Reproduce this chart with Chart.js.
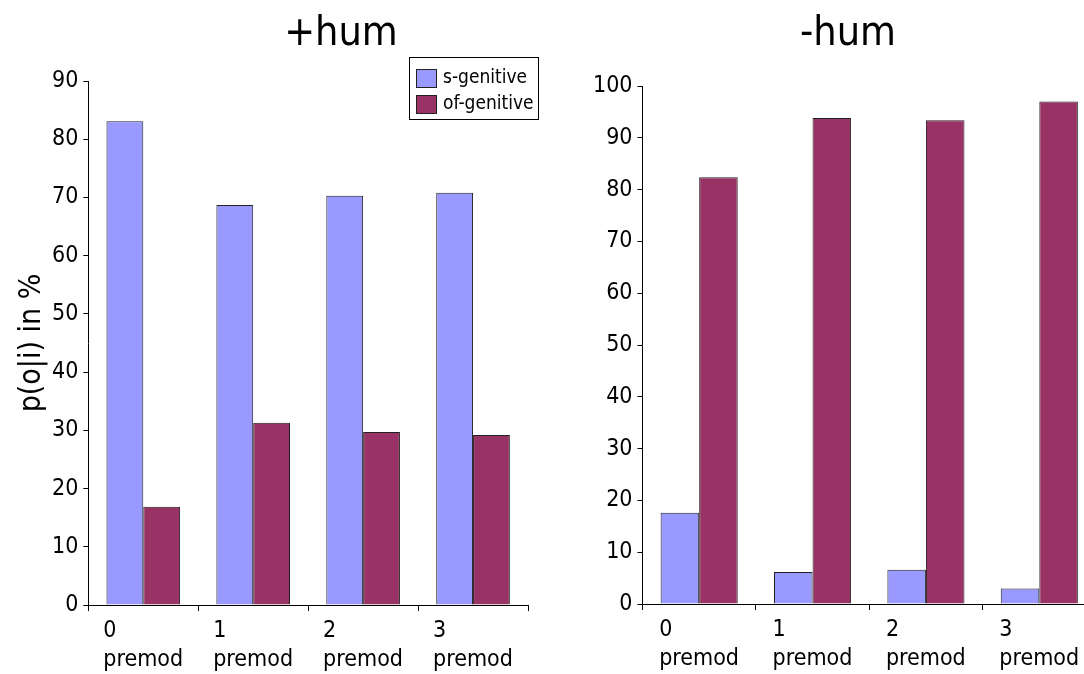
<!DOCTYPE html>
<html>
<head>
<meta charset="utf-8">
<script src="https://cdn.jsdelivr.net/npm/chart.js@4.4.1/dist/chart.umd.min.js"></script>
<style>
html, body { margin:0; padding:0; background:#fff; overflow:hidden; width:1084px; height:674px; position:relative; }
#humBox { position:absolute; left:0; top:0; }
#nonhumBox { position:absolute; left:586px; top:0; }
</style>
</head>
<body>
<div id="humBox"><canvas id="humChart" width="682" height="681"></canvas></div>
<div id="nonhumBox"><canvas id="nonhumChart" width="524" height="680"></canvas></div>
<script>
const categories = [["0", "premod"], ["1", "premod"], ["2", "premod"], ["3", "premod"]];
const seriesNames = ["s-genitive", "of-genitive"];
const seriesColors = ["#9999ff", "#993366"];

// +hum panel
const humS = [83.1, 68.7, 70.3, 70.8];
const humOf = [16.9, 31.3, 29.7, 29.2];

// -hum panel
const nonhumS = [17.6, 6.2, 6.6, 3.0];
const nonhumOf = [82.4, 93.8, 93.4, 97.0];

const humMax = 90;
const nonhumMax = 100;

const fontName = '"DejaVu Sans Condensed", "DejaVu Sans", sans-serif';

// title centred on the canvas, not on the plot
const panelTitle = {
    id: 'panelTitle',
    afterDraw(chart, args, opts) {
        const ctx = chart.ctx;
        ctx.save();
        ctx.font = '41px ' + fontName;
        ctx.fillStyle = '#000';
        ctx.textAlign = 'center';
        ctx.textBaseline = 'alphabetic';
        ctx.fillText(opts.text, chart.width / 2, 45);
        ctx.restore();
    }
};

// boxed legend drawn from the datasets
const boxLegend = {
    id: 'boxLegend',
    afterDraw(chart, args, opts) {
        if (!opts.show) return;
        const ctx = chart.ctx;
        ctx.save();
        ctx.fillStyle = '#fff';
        ctx.fillRect(opts.left, opts.top, opts.width, opts.height);
        ctx.strokeStyle = '#000';
        ctx.lineWidth = 1;
        ctx.strokeRect(opts.left + 0.5, opts.top + 0.5, opts.width, opts.height);
        ctx.font = '19px ' + fontName;
        ctx.textBaseline = 'middle';
        chart.data.datasets.forEach((ds, i) => {
            const cy = opts.top + opts.rowStart + i * opts.rowGap;
            ctx.fillStyle = ds.backgroundColor;
            ctx.fillRect(opts.left + 7, cy - 9, 20, 18);
            ctx.strokeStyle = '#222';
            ctx.strokeRect(opts.left + 7.5, cy - 8.5, 20, 18);
            ctx.fillStyle = '#000';
            ctx.fillText(ds.label, opts.left + 34, cy);
        });
        ctx.restore();
    }
};

function makeDatasets(a, b, catPct) {
    return [a, b].map((vals, i) => ({
        label: seriesNames[i],
        data: vals,
        backgroundColor: seriesColors[i],
        borderColor: '#222',
        borderWidth: 1,
        barPercentage: 1,
        categoryPercentage: catPct
    }));
}

function makeOptions(title, max, pad, yTitle, legend) {
    return {
        responsive: false,
        animation: false,
        layout: { padding: pad },
        plugins: {
            legend: { display: false },
            tooltip: { enabled: false },
            panelTitle: { text: title },
            boxLegend: legend
        },
        scales: {
            x: {
                border: { display: true, color: '#000', width: 1 },
                grid: { display: true, drawOnChartArea: false, drawTicks: true, tickLength: 6, color: '#000', offset: true },
                ticks: {
                    color: '#000',
                    font: { family: fontName, size: 23, lineHeight: 1.26 },
                    padding: 6,
                    align: 'start',
                    labelOffset: -40,
                    autoSkip: false,
                    maxRotation: 0
                },
                // labels hang to the right of the tick, don't shrink the plot for them
                afterFit: (scale) => { scale.paddingLeft = 0; scale.paddingRight = 0; }
            },
            y: {
                min: 0,
                max: max,
                border: { display: true, color: '#000', width: 1 },
                grid: { display: true, drawOnChartArea: false, drawTicks: true, tickLength: 5, color: '#000' },
                ticks: {
                    stepSize: 10,
                    color: '#000',
                    font: { family: fontName, size: 23 },
                    padding: 5
                },
                title: {
                    display: yTitle !== '',
                    text: yTitle,
                    color: '#000',
                    font: { family: fontName, size: 30, lineHeight: 1 },
                    padding: { top: 0, bottom: 0 }
                }
            }
        }
    };
}

new Chart(document.getElementById('humChart'), {
    type: 'bar',
    data: { labels: categories, datasets: makeDatasets(humS, humOf, 0.67) },
    options: makeOptions('+hum', humMax, { left: 17, right: 154, top: 81, bottom: 0 }, 'p(o|i) in %',
        { show: true, left: 409, top: 57, width: 129, height: 62, rowStart: 21, rowGap: 26 }),
    plugins: [panelTitle, boxLegend]
});

new Chart(document.getElementById('nonhumChart'), {
    type: 'bar',
    data: { labels: categories, datasets: makeDatasets(nonhumS, nonhumOf, 0.68) },
    options: makeOptions('-hum', nonhumMax, { left: 2, right: 14, top: 86, bottom: 0 }, '', { show: false }),
    plugins: [panelTitle, boxLegend]
});
</script>
</body>
</html>
